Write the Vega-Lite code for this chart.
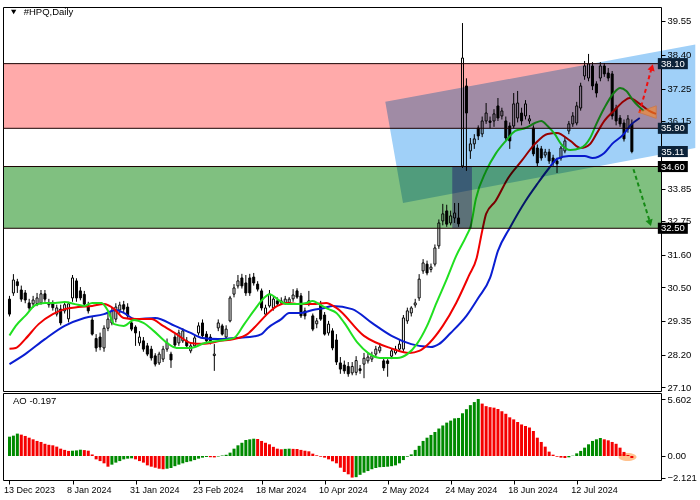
{
"$schema": "https://vega.github.io/schema/vega-lite/v6.json",
"background": "white",
"padding": {"left": 2, "top": 6, "right": 0, "bottom": 0},
"spacing": 2,
"bounds": "flush",
"config": {
  "view": {"stroke": "black", "strokeWidth": 1},
  "font": "Liberation Sans",
  "axis": {"labelFont": "Liberation Sans", "labelFontSize": 9.5, "labelColor": "black", "tickColor": "black", "domain": false, "grid": false}
},
"resolve": {"scale": {"x": "independent", "y": "independent", "color": "independent", "fill": "independent"}},
"datasets": {
"candles": [
{"i":0,"o":30.09,"h":30.2,"l":29.5,"c":29.58},{"i":1,"o":30.3,"h":30.94,"l":30.2,"c":30.74},{"i":2,"o":30.68,"h":30.78,"l":30.3,"c":30.55},{"i":3,"o":30.4,"h":30.55,"l":30.0,"c":30.09},{"i":4,"o":30.3,"h":30.4,"l":29.95,"c":30.06},{"i":5,"o":29.96,"h":30.1,"l":29.7,"c":29.79},{"i":6,"o":29.93,"h":30.2,"l":29.8,"c":30.06},{"i":7,"o":29.94,"h":30.3,"l":29.85,"c":30.13},{"i":8,"o":29.96,"h":30.4,"l":29.9,"c":30.27},{"i":9,"o":30.27,"h":30.4,"l":30.0,"c":30.09},
{"i":10,"o":29.9,"h":30.1,"l":29.8,"c":29.97},{"i":11,"o":29.95,"h":30.05,"l":29.7,"c":29.8},{"i":12,"o":29.58,"h":29.9,"l":29.5,"c":29.79},{"i":13,"o":29.75,"h":29.9,"l":29.2,"c":29.28},{"i":14,"o":29.69,"h":30.0,"l":29.6,"c":29.9},{"i":15,"o":29.42,"h":30.0,"l":29.3,"c":29.93},{"i":16,"o":30.13,"h":30.91,"l":30.0,"c":30.81},{"i":17,"o":30.71,"h":30.8,"l":30.0,"c":30.13},{"i":18,"o":30.37,"h":30.5,"l":30.05,"c":30.13},{"i":19,"o":30.25,"h":30.37,"l":29.85,"c":29.92},
{"i":20,"o":29.85,"h":30.0,"l":29.6,"c":29.69},{"i":21,"o":29.38,"h":29.5,"l":28.85,"c":28.9},{"i":22,"o":28.75,"h":28.9,"l":28.3,"c":28.43},{"i":23,"o":28.8,"h":28.95,"l":28.35,"c":28.46},{"i":24,"o":28.43,"h":29.2,"l":28.3,"c":29.1},{"i":25,"o":29.1,"h":29.6,"l":29.0,"c":29.41},{"i":26,"o":29.28,"h":29.8,"l":29.2,"c":29.69},{"i":27,"o":29.41,"h":29.95,"l":29.3,"c":29.82},{"i":28,"o":29.72,"h":30.0,"l":29.6,"c":29.89},{"i":29,"o":29.9,"h":30.03,"l":29.65,"c":29.75},
{"i":30,"o":29.82,"h":29.95,"l":29.45,"c":29.52},{"i":31,"o":29.28,"h":29.4,"l":29.0,"c":29.07},{"i":32,"o":29.14,"h":29.2,"l":28.5,"c":28.94},{"i":33,"o":28.6,"h":29.0,"l":28.5,"c":28.8},{"i":34,"o":28.67,"h":28.8,"l":28.3,"c":28.39},{"i":35,"o":28.5,"h":28.6,"l":28.15,"c":28.22},{"i":36,"o":28.39,"h":28.5,"l":28.0,"c":28.09},{"i":37,"o":28.16,"h":28.25,"l":27.8,"c":27.88},{"i":38,"o":27.92,"h":28.3,"l":27.85,"c":28.22},{"i":39,"o":28.05,"h":28.5,"l":27.95,"c":28.39},
{"i":40,"o":28.39,"h":28.75,"l":28.3,"c":28.6},{"i":41,"o":28.22,"h":28.3,"l":27.75,"c":28.02},{"i":42,"o":28.8,"h":28.9,"l":28.43,"c":28.53},{"i":43,"o":28.6,"h":29.05,"l":28.5,"c":28.94},{"i":44,"o":28.67,"h":29.1,"l":28.6,"c":29.01},{"i":45,"o":28.67,"h":28.8,"l":28.4,"c":28.5},{"i":46,"o":28.33,"h":28.6,"l":28.25,"c":28.5},{"i":47,"o":28.5,"h":28.9,"l":28.45,"c":28.77},{"i":48,"o":28.94,"h":29.3,"l":28.85,"c":29.18},{"i":49,"o":29.28,"h":29.4,"l":28.75,"c":28.84},
{"i":50,"o":28.9,"h":29.0,"l":28.6,"c":28.67},{"i":51,"o":28.8,"h":28.9,"l":28.55,"c":28.67},{"i":52,"o":28.17,"h":28.56,"l":27.65,"c":28.22},{"i":53,"o":29.11,"h":29.4,"l":29.0,"c":29.28},{"i":54,"o":29.18,"h":29.25,"l":28.85,"c":28.9},{"i":55,"o":28.8,"h":29.2,"l":28.7,"c":29.07},{"i":56,"o":29.35,"h":30.2,"l":29.3,"c":30.13},{"i":57,"o":30.26,"h":30.6,"l":30.15,"c":30.47},{"i":58,"o":30.54,"h":30.91,"l":30.45,"c":30.71},{"i":59,"o":30.81,"h":30.95,"l":30.45,"c":30.54},
{"i":60,"o":30.64,"h":30.91,"l":30.2,"c":30.3},{"i":61,"o":30.81,"h":30.95,"l":30.2,"c":30.3},{"i":62,"o":30.84,"h":30.98,"l":30.55,"c":30.64},{"i":63,"o":30.6,"h":30.7,"l":30.35,"c":30.43},{"i":64,"o":30.37,"h":30.45,"l":29.7,"c":29.79},{"i":65,"o":29.58,"h":29.9,"l":29.5,"c":29.79},{"i":66,"o":29.86,"h":30.4,"l":29.8,"c":30.26},{"i":67,"o":29.79,"h":30.2,"l":29.7,"c":30.09},{"i":68,"o":30.03,"h":30.15,"l":29.85,"c":29.93},{"i":69,"o":29.96,"h":30.15,"l":29.9,"c":30.03},
{"i":70,"o":29.96,"h":30.2,"l":29.9,"c":30.09},{"i":71,"o":29.97,"h":30.16,"l":29.9,"c":30.09},{"i":72,"o":30.1,"h":30.43,"l":30.0,"c":30.23},{"i":73,"o":30.37,"h":30.46,"l":30.1,"c":30.16},{"i":74,"o":30.2,"h":30.3,"l":29.45,"c":29.52},{"i":75,"o":29.69,"h":29.8,"l":29.4,"c":29.52},{"i":76,"o":30.03,"h":30.37,"l":29.85,"c":29.93},{"i":77,"o":29.52,"h":29.6,"l":29.0,"c":29.07},{"i":78,"o":29.25,"h":29.45,"l":29.1,"c":29.35},{"i":79,"o":29.89,"h":30.03,"l":29.35,"c":29.41},
{"i":80,"o":29.55,"h":29.65,"l":28.85,"c":28.9},{"i":81,"o":28.94,"h":29.35,"l":28.85,"c":29.24},{"i":82,"o":29.01,"h":29.1,"l":28.35,"c":28.43},{"i":83,"o":28.7,"h":28.9,"l":27.85,"c":27.95},{"i":84,"o":27.92,"h":28.12,"l":27.55,"c":27.71},{"i":85,"o":27.85,"h":28.0,"l":27.55,"c":27.65},{"i":86,"o":27.8,"h":27.95,"l":27.45,"c":27.55},{"i":87,"o":27.58,"h":27.95,"l":27.5,"c":27.8},{"i":88,"o":27.6,"h":28.15,"l":27.5,"c":28.0},{"i":89,"o":27.72,"h":27.85,"l":27.55,"c":27.66},
{"i":90,"o":27.88,"h":28.26,"l":27.4,"c":28.08},{"i":91,"o":27.99,"h":28.25,"l":27.9,"c":28.12},{"i":92,"o":28.05,"h":28.3,"l":27.95,"c":28.16},{"i":93,"o":28.22,"h":28.5,"l":28.1,"c":28.39},{"i":94,"o":28.33,"h":28.6,"l":28.25,"c":28.46},{"i":95,"o":27.99,"h":28.1,"l":27.65,"c":27.75},{"i":96,"o":27.99,"h":28.05,"l":27.45,"c":27.9},{"i":97,"o":28.15,"h":28.4,"l":28.05,"c":28.33},{"i":98,"o":28.26,"h":28.5,"l":28.2,"c":28.39},{"i":99,"o":28.39,"h":28.7,"l":28.3,"c":28.56},
{"i":100,"o":28.39,"h":29.55,"l":28.3,"c":29.45},{"i":101,"o":29.35,"h":29.8,"l":29.25,"c":29.69},{"i":102,"o":29.62,"h":29.85,"l":29.5,"c":29.79},{"i":103,"o":29.89,"h":30.1,"l":29.8,"c":29.96},{"i":104,"o":30.13,"h":30.94,"l":30.03,"c":30.77},{"i":105,"o":31.05,"h":31.45,"l":30.95,"c":31.32},{"i":106,"o":31.28,"h":31.4,"l":30.9,"c":30.98},{"i":107,"o":31.1,"h":31.3,"l":31.0,"c":31.18},{"i":108,"o":31.28,"h":31.95,"l":31.2,"c":31.83},{"i":109,"o":31.9,"h":32.8,"l":31.8,"c":32.68},
{"i":110,"o":32.75,"h":33.33,"l":32.6,"c":32.99},{"i":111,"o":33.09,"h":33.3,"l":32.55,"c":32.64},{"i":112,"o":32.68,"h":33.1,"l":32.6,"c":32.92},{"i":113,"o":32.85,"h":33.36,"l":32.68,"c":33.02},{"i":114,"o":32.85,"h":33.36,"l":32.55,"c":32.65},{"i":115,"o":34.62,"h":39.48,"l":34.55,"c":38.29},{"i":116,"o":37.34,"h":37.6,"l":34.45,"c":36.42},{"i":117,"o":35.13,"h":35.57,"l":34.86,"c":35.37},{"i":118,"o":35.37,"h":35.7,"l":35.2,"c":35.54},{"i":119,"o":35.91,"h":36.0,"l":35.5,"c":35.64},
{"i":120,"o":35.71,"h":36.3,"l":35.6,"c":36.15},{"i":121,"o":36.15,"h":36.76,"l":36.05,"c":36.42},{"i":122,"o":36.15,"h":36.3,"l":35.9,"c":36.1},{"i":123,"o":36.15,"h":36.55,"l":35.95,"c":36.39},{"i":124,"o":36.66,"h":36.93,"l":36.15,"c":36.25},{"i":125,"o":36.32,"h":36.6,"l":36.2,"c":36.49},{"i":126,"o":36.15,"h":36.3,"l":35.5,"c":35.57},{"i":127,"o":35.98,"h":36.1,"l":35.2,"c":35.47},{"i":128,"o":35.98,"h":37.1,"l":35.9,"c":36.73},{"i":129,"o":36.25,"h":37.17,"l":36.1,"c":36.76},
{"i":130,"o":36.42,"h":36.6,"l":36.0,"c":36.15},{"i":131,"o":36.32,"h":36.86,"l":36.2,"c":36.73},{"i":132,"o":36.15,"h":36.35,"l":36.05,"c":36.22},{"i":133,"o":35.91,"h":36.0,"l":34.95,"c":35.03},{"i":134,"o":35.23,"h":35.35,"l":34.6,"c":34.72},{"i":135,"o":35.2,"h":35.3,"l":34.8,"c":34.89},{"i":136,"o":34.99,"h":35.2,"l":34.9,"c":35.09},{"i":137,"o":35.09,"h":35.2,"l":34.69,"c":34.79},{"i":138,"o":34.89,"h":35.0,"l":34.62,"c":34.72},{"i":139,"o":34.79,"h":34.9,"l":34.38,"c":34.69},
{"i":140,"o":34.89,"h":35.3,"l":34.8,"c":35.23},{"i":141,"o":35.13,"h":35.6,"l":35.05,"c":35.47},{"i":142,"o":35.81,"h":36.15,"l":35.7,"c":36.05},{"i":143,"o":36.05,"h":36.45,"l":35.95,"c":36.32},{"i":144,"o":36.08,"h":36.8,"l":36.0,"c":36.66},{"i":145,"o":36.59,"h":37.45,"l":36.5,"c":37.34},{"i":146,"o":37.68,"h":38.19,"l":37.55,"c":38.02},{"i":147,"o":37.61,"h":38.43,"l":37.5,"c":38.09},{"i":148,"o":38.02,"h":38.15,"l":37.2,"c":37.34},{"i":149,"o":37.41,"h":37.5,"l":36.95,"c":37.1},
{"i":150,"o":37.61,"h":38.15,"l":37.5,"c":38.02},{"i":151,"o":38.02,"h":38.12,"l":37.65,"c":37.75},{"i":152,"o":37.78,"h":37.95,"l":37.5,"c":37.61},{"i":153,"o":37.75,"h":37.85,"l":36.2,"c":36.32},{"i":154,"o":36.59,"h":36.7,"l":36.0,"c":36.15},{"i":155,"o":36.25,"h":36.35,"l":35.95,"c":36.05},{"i":156,"o":36.08,"h":36.2,"l":35.45,"c":35.54},{"i":157,"o":35.88,"h":36.35,"l":35.75,"c":36.22},{"i":158,"o":36.05,"h":36.2,"l":35.05,"c":35.11}
],
"ma": [
{"s":"jaw","i":0,"v":27.88},{"s":"jaw","i":4,"v":28.22},{"s":"jaw","i":9,"v":28.73},{"s":"jaw","i":14,"v":29.18},{"s":"jaw","i":19,"v":29.45},{"s":"jaw","i":24,"v":29.58},{"s":"jaw","i":27,"v":29.72},{"s":"jaw","i":29,"v":29.62},{"s":"jaw","i":32,"v":29.41},{"s":"jaw","i":37,"v":29.45},{"s":"jaw","i":42,"v":29.18},{"s":"jaw","i":46,"v":28.94},{"s":"jaw","i":49,"v":28.77},{"s":"jaw","i":53,"v":28.73},{"s":"jaw","i":57,"v":28.77},{"s":"jaw","i":61,"v":28.8},{"s":"jaw","i":64,"v":28.9},{"s":"jaw","i":65.5,"v":29.1},{"s":"jaw","i":69,"v":29.41},{"s":"jaw","i":71,"v":29.62},{"s":"jaw","i":74,"v":29.62},{"s":"jaw","i":77,"v":29.72},{"s":"jaw","i":80,"v":29.79},{"s":"jaw","i":82,"v":29.86},{"s":"jaw","i":87,"v":29.75},{"s":"jaw","i":92,"v":29.28},{"s":"jaw","i":97,"v":28.84},{"s":"jaw","i":102,"v":28.56},{"s":"jaw","i":107,"v":28.46},{"s":"jaw","i":109,"v":28.56},{"s":"jaw","i":112,"v":28.94},{"s":"jaw","i":116,"v":29.52},{"s":"jaw","i":119,"v":30.13},{"s":"jaw","i":122,"v":30.81},{"s":"jaw","i":124,"v":31.73},{"s":"jaw","i":127,"v":32.51},{"s":"jaw","i":131,"v":33.43},{"s":"jaw","i":134,"v":34.01},{"s":"jaw","i":137,"v":34.55},{"s":"jaw","i":139,"v":34.86},{"s":"jaw","i":142,"v":34.96},{"s":"jaw","i":146,"v":34.96},{"s":"jaw","i":148,"v":34.89},{"s":"jaw","i":151,"v":35.06},{"s":"jaw","i":153,"v":35.37},{"s":"jaw","i":156,"v":35.71},{"s":"jaw","i":157.5,"v":35.98},{"s":"jaw","i":160,"v":36.25},
{"s":"teeth","i":0,"v":28.4},{"s":"teeth","i":1.6,"v":28.43},{"s":"teeth","i":4,"v":28.73},{"s":"teeth","i":7.4,"v":29.24},{"s":"teeth","i":11,"v":29.58},{"s":"teeth","i":14,"v":29.75},{"s":"teeth","i":17.4,"v":29.82},{"s":"teeth","i":21,"v":29.86},{"s":"teeth","i":24,"v":29.92},{"s":"teeth","i":26.6,"v":29.75},{"s":"teeth","i":29,"v":29.45},{"s":"teeth","i":32.4,"v":29.41},{"s":"teeth","i":36,"v":29.41},{"s":"teeth","i":39,"v":29.18},{"s":"teeth","i":42.4,"v":28.9},{"s":"teeth","i":46,"v":28.6},{"s":"teeth","i":49,"v":28.57},{"s":"teeth","i":53.6,"v":28.67},{"s":"teeth","i":57,"v":28.73},{"s":"teeth","i":60.4,"v":28.9},{"s":"teeth","i":63,"v":29.24},{"s":"teeth","i":65.4,"v":29.58},{"s":"teeth","i":68,"v":29.86},{"s":"teeth","i":70.4,"v":29.96},{"s":"teeth","i":73.6,"v":29.92},{"s":"teeth","i":77,"v":29.92},{"s":"teeth","i":80.4,"v":29.96},{"s":"teeth","i":83,"v":29.79},{"s":"teeth","i":90,"v":28.84},{"s":"teeth","i":96.6,"v":28.43},{"s":"teeth","i":101.6,"v":28.26},{"s":"teeth","i":104,"v":28.33},{"s":"teeth","i":106.6,"v":28.6},{"s":"teeth","i":110,"v":29.18},{"s":"teeth","i":113.4,"v":29.96},{"s":"teeth","i":116.6,"v":30.88},{"s":"teeth","i":118.6,"v":31.49},{"s":"teeth","i":120,"v":32.41},{"s":"teeth","i":121,"v":32.99},{"s":"teeth","i":123.4,"v":33.43},{"s":"teeth","i":126.6,"v":34.21},{"s":"teeth","i":130,"v":34.79},{"s":"teeth","i":133.4,"v":35.37},{"s":"teeth","i":136.6,"v":35.71},{"s":"teeth","i":139,"v":35.74},{"s":"teeth","i":142.4,"v":35.47},{"s":"teeth","i":145,"v":35.23},{"s":"teeth","i":147.4,"v":35.37},{"s":"teeth","i":149,"v":35.71},{"s":"teeth","i":151,"v":36.15},{"s":"teeth","i":153.4,"v":36.49},{"s":"teeth","i":156,"v":36.83},{"s":"teeth","i":157.4,"v":36.93},{"s":"teeth","i":160,"v":36.73},{"s":"teeth","i":162.4,"v":36.49},{"s":"teeth","i":164.1,"v":36.39},
{"s":"lips","i":0,"v":28.85},{"s":"lips","i":1.6,"v":29.18},{"s":"lips","i":4,"v":29.52},{"s":"lips","i":6.6,"v":29.89},{"s":"lips","i":9,"v":29.96},{"s":"lips","i":11.6,"v":29.96},{"s":"lips","i":14,"v":29.99},{"s":"lips","i":16.6,"v":29.92},{"s":"lips","i":19,"v":29.86},{"s":"lips","i":21,"v":29.96},{"s":"lips","i":23.4,"v":29.96},{"s":"lips","i":25,"v":29.69},{"s":"lips","i":26.6,"v":29.24},{"s":"lips","i":29,"v":29.18},{"s":"lips","i":31.6,"v":29.38},{"s":"lips","i":34,"v":29.28},{"s":"lips","i":36.6,"v":29.01},{"s":"lips","i":40,"v":28.6},{"s":"lips","i":42.4,"v":28.43},{"s":"lips","i":46,"v":28.43},{"s":"lips","i":49.6,"v":28.6},{"s":"lips","i":53,"v":28.67},{"s":"lips","i":57,"v":28.77},{"s":"lips","i":59.6,"v":29.24},{"s":"lips","i":62,"v":29.69},{"s":"lips","i":64.6,"v":30.13},{"s":"lips","i":66,"v":30.26},{"s":"lips","i":68.6,"v":30.03},{"s":"lips","i":70.4,"v":29.92},{"s":"lips","i":73,"v":29.92},{"s":"lips","i":75.4,"v":29.96},{"s":"lips","i":77,"v":30.03},{"s":"lips","i":78.6,"v":29.92},{"s":"lips","i":81,"v":29.75},{"s":"lips","i":83,"v":29.62},{"s":"lips","i":85,"v":29.28},{"s":"lips","i":88.4,"v":28.6},{"s":"lips","i":91,"v":28.26},{"s":"lips","i":94,"v":28.09},{"s":"lips","i":98.4,"v":28.09},{"s":"lips","i":101,"v":28.22},{"s":"lips","i":103.4,"v":28.56},{"s":"lips","i":106,"v":29.18},{"s":"lips","i":108.4,"v":29.96},{"s":"lips","i":111,"v":30.77},{"s":"lips","i":113.4,"v":31.56},{"s":"lips","i":116,"v":32.24},{"s":"lips","i":117.1,"v":32.58},{"s":"lips","i":118.4,"v":33.5},{"s":"lips","i":121,"v":34.45},{"s":"lips","i":123.4,"v":35.03},{"s":"lips","i":126,"v":35.47},{"s":"lips","i":128.4,"v":35.81},{"s":"lips","i":131,"v":35.91},{"s":"lips","i":133.4,"v":36.08},{"s":"lips","i":135,"v":36.15},{"s":"lips","i":136.6,"v":35.98},{"s":"lips","i":138.4,"v":35.71},{"s":"lips","i":140,"v":35.37},{"s":"lips","i":142.4,"v":35.16},{"s":"lips","i":145,"v":35.23},{"s":"lips","i":147.4,"v":35.57},{"s":"lips","i":149,"v":36.05},{"s":"lips","i":151,"v":36.59},{"s":"lips","i":153.4,"v":37.1},{"s":"lips","i":155,"v":37.27},{"s":"lips","i":156.6,"v":37.17},{"s":"lips","i":158.4,"v":36.83},{"s":"lips","i":161,"v":36.49}
],
"ao": [
{"i":0,"v":1.9,"c":"g"},{"i":1,"v":2.0,"c":"g"},{"i":2,"v":2.2,"c":"g"},{"i":3,"v":2.1,"c":"r"},{"i":4,"v":1.97,"c":"r"},{"i":5,"v":1.8,"c":"r"},{"i":6,"v":1.64,"c":"r"},{"i":7,"v":1.48,"c":"r"},{"i":8,"v":1.38,"c":"r"},{"i":9,"v":1.2,"c":"r"},{"i":10,"v":1.1,"c":"r"},{"i":11,"v":1.05,"c":"r"},{"i":12,"v":0.92,"c":"r"},{"i":13,"v":0.72,"c":"r"},{"i":14,"v":0.6,"c":"r"},{"i":15,"v":0.5,"c":"r"},{"i":16,"v":0.52,"c":"g"},{"i":17,"v":0.55,"c":"g"},{"i":18,"v":0.62,"c":"g"},{"i":19,"v":0.58,"c":"r"},
{"i":20,"v":0.52,"c":"r"},{"i":21,"v":0.15,"c":"r"},{"i":22,"v":-0.33,"c":"r"},{"i":23,"v":-0.5,"c":"r"},{"i":24,"v":-0.72,"c":"r"},{"i":25,"v":-1.05,"c":"r"},{"i":26,"v":-0.85,"c":"g"},{"i":27,"v":-0.65,"c":"g"},{"i":28,"v":-0.5,"c":"g"},{"i":29,"v":-0.33,"c":"g"},{"i":30,"v":-0.26,"c":"g"},{"i":31,"v":-0.23,"c":"g"},{"i":32,"v":-0.33,"c":"r"},{"i":33,"v":-0.5,"c":"r"},{"i":34,"v":-0.65,"c":"r"},{"i":35,"v":-0.92,"c":"r"},{"i":36,"v":-1.05,"c":"r"},{"i":37,"v":-1.15,"c":"r"},{"i":38,"v":-1.25,"c":"r"},{"i":39,"v":-1.3,"c":"r"},
{"i":40,"v":-1.25,"c":"g"},{"i":41,"v":-1.18,"c":"g"},{"i":42,"v":-1.0,"c":"g"},{"i":43,"v":-0.85,"c":"g"},{"i":44,"v":-0.72,"c":"g"},{"i":45,"v":-0.6,"c":"g"},{"i":46,"v":-0.52,"c":"g"},{"i":47,"v":-0.4,"c":"g"},{"i":48,"v":-0.26,"c":"g"},{"i":49,"v":-0.16,"c":"g"},{"i":50,"v":-0.1,"c":"g"},{"i":51,"v":-0.12,"c":"r"},{"i":52,"v":-0.14,"c":"r"},{"i":53,"v":-0.05,"c":"g"},{"i":54,"v":0.05,"c":"g"},{"i":55,"v":0.12,"c":"g"},{"i":56,"v":0.33,"c":"g"},{"i":57,"v":0.72,"c":"g"},{"i":58,"v":1.05,"c":"g"},{"i":59,"v":1.3,"c":"g"},
{"i":60,"v":1.57,"c":"g"},{"i":61,"v":1.64,"c":"g"},{"i":62,"v":1.7,"c":"g"},{"i":63,"v":1.66,"c":"r"},{"i":64,"v":1.48,"c":"r"},{"i":65,"v":1.3,"c":"r"},{"i":66,"v":1.15,"c":"r"},{"i":67,"v":0.9,"c":"r"},{"i":68,"v":0.72,"c":"r"},{"i":69,"v":0.66,"c":"r"},{"i":70,"v":0.7,"c":"g"},{"i":71,"v":0.72,"c":"g"},{"i":72,"v":0.7,"c":"r"},{"i":73,"v":0.69,"c":"r"},{"i":74,"v":0.6,"c":"r"},{"i":75,"v":0.52,"c":"r"},{"i":76,"v":0.46,"c":"r"},{"i":77,"v":0.23,"c":"r"},{"i":78,"v":0.07,"c":"r"},{"i":79,"v":-0.07,"c":"r"},
{"i":80,"v":-0.16,"c":"r"},{"i":81,"v":-0.33,"c":"r"},{"i":82,"v":-0.52,"c":"r"},{"i":83,"v":-0.72,"c":"r"},{"i":84,"v":-1.15,"c":"r"},{"i":85,"v":-1.57,"c":"r"},{"i":86,"v":-1.8,"c":"r"},{"i":87,"v":-2.121,"c":"r"},{"i":88,"v":-2.08,"c":"g"},{"i":89,"v":-1.85,"c":"g"},{"i":90,"v":-1.64,"c":"g"},{"i":91,"v":-1.48,"c":"g"},{"i":92,"v":-1.3,"c":"g"},{"i":93,"v":-1.18,"c":"g"},{"i":94,"v":-1.1,"c":"g"},{"i":95,"v":-1.08,"c":"g"},{"i":96,"v":-1.05,"c":"g"},{"i":97,"v":-1.0,"c":"g"},{"i":98,"v":-0.92,"c":"g"},{"i":99,"v":-0.72,"c":"g"},
{"i":100,"v":-0.4,"c":"g"},{"i":101,"v":-0.07,"c":"g"},{"i":102,"v":0.16,"c":"g"},{"i":103,"v":0.6,"c":"g"},{"i":104,"v":1.0,"c":"g"},{"i":105,"v":1.48,"c":"g"},{"i":106,"v":1.8,"c":"g"},{"i":107,"v":2.07,"c":"g"},{"i":108,"v":2.36,"c":"g"},{"i":109,"v":2.7,"c":"g"},{"i":110,"v":3.0,"c":"g"},{"i":111,"v":3.28,"c":"g"},{"i":112,"v":3.48,"c":"g"},{"i":113,"v":3.7,"c":"g"},{"i":114,"v":3.74,"c":"g"},{"i":115,"v":4.2,"c":"g"},{"i":116,"v":4.6,"c":"g"},{"i":117,"v":5.0,"c":"g"},{"i":118,"v":5.3,"c":"g"},{"i":119,"v":5.602,"c":"g"},
{"i":120,"v":5.15,"c":"r"},{"i":121,"v":4.9,"c":"r"},{"i":122,"v":4.8,"c":"r"},{"i":123,"v":4.75,"c":"r"},{"i":124,"v":4.62,"c":"r"},{"i":125,"v":4.4,"c":"r"},{"i":126,"v":4.15,"c":"r"},{"i":127,"v":3.8,"c":"r"},{"i":128,"v":3.6,"c":"r"},{"i":129,"v":3.34,"c":"r"},{"i":130,"v":3.1,"c":"r"},{"i":131,"v":2.95,"c":"r"},{"i":132,"v":2.8,"c":"r"},{"i":133,"v":2.46,"c":"r"},{"i":134,"v":1.8,"c":"r"},{"i":135,"v":1.38,"c":"r"},{"i":136,"v":0.92,"c":"r"},{"i":137,"v":0.43,"c":"r"},{"i":138,"v":0.13,"c":"r"},{"i":139,"v":-0.07,"c":"r"},
{"i":140,"v":-0.16,"c":"r"},{"i":141,"v":-0.2,"c":"r"},{"i":142,"v":-0.13,"c":"g"},{"i":143,"v":0.03,"c":"g"},{"i":144,"v":0.26,"c":"g"},{"i":145,"v":0.5,"c":"g"},{"i":146,"v":0.82,"c":"g"},{"i":147,"v":1.15,"c":"g"},{"i":148,"v":1.48,"c":"g"},{"i":149,"v":1.64,"c":"g"},{"i":150,"v":1.77,"c":"g"},{"i":151,"v":1.64,"c":"r"},{"i":152,"v":1.54,"c":"r"},{"i":153,"v":1.38,"c":"r"},{"i":154,"v":1.2,"c":"r"},{"i":155,"v":0.82,"c":"r"},{"i":156,"v":0.4,"c":"r"},{"i":157,"v":0.1,"c":"r"},{"i":158,"v":-0.197,"c":"r"}
],
"zones": [{"lo":35.9,"hi":38.1,"z":"sell"},{"lo":32.5,"hi":34.6,"z":"buy"}],
"levels": [{"p":38.1},{"p":35.9},{"p":34.6},{"p":32.5}],
"tags": [{"p":38.1,"k":"level"},{"p":35.9,"k":"level"},{"p":35.11,"k":"bid"},{"p":34.6,"k":"level"},{"p":32.5,"k":"level"}],
"channel": [{"i":95.4,"top":36.8,"bot":36.8},{"i":99.9,"top":36.91,"bot":33.36},{"i":174.1,"top":38.75,"bot":35.23}],
"gap": [{"i1":112.4,"i2":117.4,"lo":32.5,"hi":34.6}],
"arrows": [{"dir":"up","i1":159.9,"p1":36.42,"i2":163.0,"p2":37.95},{"dir":"down","i1":158.4,"p1":34.51,"i2":162.5,"p2":32.75}],
"heads": [{"dir":"up","i":163.1,"p":37.97},{"dir":"down","i":162.6,"p":32.68}],
"target": [{"i":161.9,"p":36.45}],
"aoMark": [{"i":156.9,"v":-0.1}],
"title": [{"i":3.6,"p":39.856,"t":"#HPQ,Daily"}],
"aoTitle": [{"i":0.9,"v":5.4,"t":"AO -0.197"}]
},
"vconcat": [
{
"width": 658, "height": 384,
"layer": [
{"data": {"name": "candles"}, "mark": {"type": "rule", "color": "black", "strokeWidth": 1},
 "encoding": {
  "x": {"field": "i", "type": "quantitative", "scale": {"domain": [-0.375, 164.125], "nice": false, "zero": false}, "axis": null},
  "y": {"field": "l", "type": "quantitative", "scale": {"domain": [26.965, 40.026], "nice": false, "zero": false},
        "axis": {"orient": "right", "title": null, "values": [39.55, 38.4, 37.25, 36.15, 33.85, 32.75, 31.6, 30.5, 29.35, 28.2, 27.1], "format": ".2f", "tickSize": 4, "labelPadding": 2, "labelAlign": "left", "labelBaseline": "middle"}},
  "y2": {"field": "h"}}},
{"data": {"name": "candles"}, "mark": {"type": "bar", "width": 2, "stroke": "black", "strokeWidth": 1},
 "encoding": {
  "x": {"field": "i", "type": "quantitative", "axis": null},
  "y": {"field": "o", "type": "quantitative", "axis": {"orient": "right", "title": null, "values": [39.55, 38.4, 37.25, 36.15, 33.85, 32.75, 31.6, 30.5, 29.35, 28.2, 27.1], "format": ".2f", "tickSize": 4, "labelPadding": 2, "labelAlign": "left", "labelBaseline": "middle"}},
  "y2": {"field": "c"},
  "fill": {"condition": {"test": "datum.c >= datum.o", "value": "white"}, "value": "black"}}},
{"data": {"name": "ma"}, "mark": {"type": "line", "strokeWidth": 2, "interpolate": "monotone"},
 "encoding": {
  "x": {"field": "i", "type": "quantitative", "axis": null},
  "y": {"field": "v", "type": "quantitative", "axis": {"orient": "right", "title": null, "values": [39.55, 38.4, 37.25, 36.15, 33.85, 32.75, 31.6, 30.5, 29.35, 28.2, 27.1], "format": ".2f", "tickSize": 4, "labelPadding": 2, "labelAlign": "left", "labelBaseline": "middle"}},
  "color": {"field": "s", "type": "nominal", "scale": {"domain": ["jaw", "teeth", "lips"], "range": ["#0A1ED2", "#F00000", "#20E020"]}, "legend": null}}},
{"data": {"name": "zones"}, "mark": {"type": "rect", "blend": "multiply"},
 "encoding": {
  "y": {"field": "lo", "type": "quantitative", "axis": {"orient": "right", "title": null, "values": [39.55, 38.4, 37.25, 36.15, 33.85, 32.75, 31.6, 30.5, 29.35, 28.2, 27.1], "format": ".2f", "tickSize": 4, "labelPadding": 2, "labelAlign": "left", "labelBaseline": "middle"}},
  "y2": {"field": "hi"},
  "fill": {"field": "z", "type": "nominal", "scale": {"domain": ["sell", "buy"], "range": ["#FFAAAA", "#80C080"]}, "legend": null}}},
{"data": {"name": "gap"}, "mark": {"type": "rect", "blend": "multiply", "fill": "#B896F0"},
 "encoding": {
  "x": {"field": "i1", "type": "quantitative", "axis": null},
  "x2": {"field": "i2"},
  "y": {"field": "lo", "type": "quantitative", "axis": {"orient": "right", "title": null, "values": [39.55, 38.4, 37.25, 36.15, 33.85, 32.75, 31.6, 30.5, 29.35, 28.2, 27.1], "format": ".2f", "tickSize": 4, "labelPadding": 2, "labelAlign": "left", "labelBaseline": "middle"}},
  "y2": {"field": "hi"}}},
{"data": {"name": "channel"}, "mark": {"type": "area", "blend": "multiply", "fill": "#A0D0F8", "opacity": 1},
 "encoding": {
  "x": {"field": "i", "type": "quantitative", "axis": null},
  "y": {"field": "top", "type": "quantitative", "axis": {"orient": "right", "title": null, "values": [39.55, 38.4, 37.25, 36.15, 33.85, 32.75, 31.6, 30.5, 29.35, 28.2, 27.1], "format": ".2f", "tickSize": 4, "labelPadding": 2, "labelAlign": "left", "labelBaseline": "middle"}},
  "y2": {"field": "bot"}}},
{"data": {"name": "levels"}, "mark": {"type": "rule", "color": "#1a0000", "strokeWidth": 1},
 "encoding": {"y": {"field": "p", "type": "quantitative", "axis": {"orient": "right", "title": null, "values": [39.55, 38.4, 37.25, 36.15, 33.85, 32.75, 31.6, 30.5, 29.35, 28.2, 27.1], "format": ".2f", "tickSize": 4, "labelPadding": 2, "labelAlign": "left", "labelBaseline": "middle"}}}},
{"data": {"name": "arrows"}, "mark": {"type": "rule", "strokeWidth": 2, "strokeDash": [4, 3]},
 "encoding": {
  "x": {"field": "i1", "type": "quantitative", "axis": null},
  "x2": {"field": "i2"},
  "y": {"field": "p1", "type": "quantitative", "axis": {"orient": "right", "title": null, "values": [39.55, 38.4, 37.25, 36.15, 33.85, 32.75, 31.6, 30.5, 29.35, 28.2, 27.1], "format": ".2f", "tickSize": 4, "labelPadding": 2, "labelAlign": "left", "labelBaseline": "middle"}},
  "y2": {"field": "p2"},
  "color": {"condition": {"test": "datum.dir == 'up'", "value": "#F01010"}, "value": "#158A15"}}},
{"data": {"name": "heads"}, "mark": {"type": "point", "filled": true, "size": 55, "opacity": 1},
 "encoding": {
  "x": {"field": "i", "type": "quantitative", "axis": null},
  "y": {"field": "p", "type": "quantitative", "axis": {"orient": "right", "title": null, "values": [39.55, 38.4, 37.25, 36.15, 33.85, 32.75, 31.6, 30.5, 29.35, 28.2, 27.1], "format": ".2f", "tickSize": 4, "labelPadding": 2, "labelAlign": "left", "labelBaseline": "middle"}},
  "shape": {"condition": {"test": "datum.dir == 'up'", "value": "triangle-up"}, "value": "triangle-down"},
  "angle": {"condition": {"test": "datum.dir == 'up'", "value": 16}, "value": 343},
  "color": {"condition": {"test": "datum.dir == 'up'", "value": "#F01010"}, "value": "#158A15"}}},
{"data": {"name": "target"}, "mark": {"type": "point", "filled": true, "shape": "M-1,0L1,-0.7L1,0.7Z", "size": 324, "fill": "#FF8C28", "opacity": 0.6, "stroke": "#E07020", "strokeWidth": 1},
 "encoding": {
  "x": {"field": "i", "type": "quantitative", "axis": null},
  "y": {"field": "p", "type": "quantitative", "axis": {"orient": "right", "title": null, "values": [39.55, 38.4, 37.25, 36.15, 33.85, 32.75, 31.6, 30.5, 29.35, 28.2, 27.1], "format": ".2f", "tickSize": 4, "labelPadding": 2, "labelAlign": "left", "labelBaseline": "middle"}}}},
{"data": {"name": "tags"}, "mark": {"type": "point", "filled": true, "shape": "M-1,-0.37H1V0.37H-1Z", "size": 900, "opacity": 1},
 "encoding": {
  "x": {"datum": 168.4, "type": "quantitative", "axis": null},
  "y": {"field": "p", "type": "quantitative", "axis": {"orient": "right", "title": null, "values": [39.55, 38.4, 37.25, 36.15, 33.85, 32.75, 31.6, 30.5, 29.35, 28.2, 27.1], "format": ".2f", "tickSize": 4, "labelPadding": 2, "labelAlign": "left", "labelBaseline": "middle"}},
  "color": {"condition": {"test": "datum.p > 35", "value": "#0C2238"}, "value": "black"}}},
{"data": {"name": "tags"}, "mark": {"type": "text", "color": "white", "fontSize": 9.5, "font": "Liberation Sans", "align": "center", "baseline": "middle"},
 "encoding": {
  "x": {"datum": 168.4, "type": "quantitative", "axis": null},
  "y": {"field": "p", "type": "quantitative", "axis": {"orient": "right", "title": null, "values": [39.55, 38.4, 37.25, 36.15, 33.85, 32.75, 31.6, 30.5, 29.35, 28.2, 27.1], "format": ".2f", "tickSize": 4, "labelPadding": 2, "labelAlign": "left", "labelBaseline": "middle"}},
  "text": {"field": "p", "type": "quantitative", "format": ".2f"}}},
{"data": {"name": "title"}, "mark": {"type": "text", "color": "black", "fontSize": 9.5, "font": "Liberation Sans", "align": "left", "baseline": "middle"},
 "encoding": {
  "x": {"field": "i", "type": "quantitative", "axis": null},
  "y": {"field": "p", "type": "quantitative", "axis": {"orient": "right", "title": null, "values": [39.55, 38.4, 37.25, 36.15, 33.85, 32.75, 31.6, 30.5, 29.35, 28.2, 27.1], "format": ".2f", "tickSize": 4, "labelPadding": 2, "labelAlign": "left", "labelBaseline": "middle"}},
  "text": {"field": "t"}}},
{"data": {"name": "title"}, "mark": {"type": "point", "filled": true, "shape": "triangle-down", "size": 28, "color": "black", "opacity": 1, "xOffset": -10},
 "encoding": {
  "x": {"field": "i", "type": "quantitative", "axis": null},
  "y": {"field": "p", "type": "quantitative", "axis": {"orient": "right", "title": null, "values": [39.55, 38.4, 37.25, 36.15, 33.85, 32.75, 31.6, 30.5, 29.35, 28.2, 27.1], "format": ".2f", "tickSize": 4, "labelPadding": 2, "labelAlign": "left", "labelBaseline": "middle"}}}}
]
},
{
"width": 658, "height": 87,
"layer": [
{"data": {"name": "aoMark"}, "mark": {"type": "point", "filled": true, "shape": "M-1,0A1,0.45,0,1,1,1,0A1,0.45,0,1,1,-1,0Z", "size": 324, "color": "#FFA860", "opacity": 0.7},
 "encoding": {
  "x": {"field": "i", "type": "quantitative", "scale": {"domain": [-0.375, 164.125], "nice": false, "zero": false},
        "axis": {"title": null, "values": [0, 16, 32, 48, 64, 80, 96, 112, 128, 144], "labelExpr": "['13 Dec 2023','8 Jan 2024','31 Jan 2024','23 Feb 2024','18 Mar 2024','10 Apr 2024','2 May 2024','24 May 2024','18 Jun 2024','12 Jul 2024'][round(datum.value/16)]", "labelAlign": "left", "labelOffset": -6, "labelFontSize": 9, "tickSize": 4, "labelPadding": 1, "labelFlush": false, "labelOverlap": false, "labelBound": false}},
  "y": {"field": "v", "type": "quantitative", "scale": {"domain": [-2.359, 6.192], "nice": false, "zero": false},
        "axis": {"orient": "right", "title": null, "values": [5.602, 0, -2.121], "labelExpr": "datum.value == 0 ? '0.00' : format(datum.value, '.3f')", "tickSize": 4, "labelPadding": 2, "labelAlign": "left", "labelBaseline": "middle"}}}},
{"data": {"name": "ao"}, "mark": {"type": "bar", "width": 3},
 "encoding": {
  "x": {"field": "i", "type": "quantitative", "axis": {"title": null, "values": [0, 16, 32, 48, 64, 80, 96, 112, 128, 144], "labelExpr": "['13 Dec 2023','8 Jan 2024','31 Jan 2024','23 Feb 2024','18 Mar 2024','10 Apr 2024','2 May 2024','24 May 2024','18 Jun 2024','12 Jul 2024'][round(datum.value/16)]", "labelAlign": "left", "labelOffset": -6, "labelFontSize": 9, "tickSize": 4, "labelPadding": 1, "labelFlush": false, "labelOverlap": false, "labelBound": false}},
  "y": {"field": "v", "type": "quantitative", "axis": {"orient": "right", "title": null, "values": [5.602, 0, -2.121], "labelExpr": "datum.value == 0 ? '0.00' : format(datum.value, '.3f')", "tickSize": 4, "labelPadding": 2, "labelAlign": "left", "labelBaseline": "middle"}},
  "y2": {"datum": 0},
  "color": {"field": "c", "type": "nominal", "scale": {"domain": ["g", "r"], "range": ["#008A00", "#F50000"]}, "legend": null}}},
{"data": {"name": "aoTitle"}, "mark": {"type": "text", "color": "black", "fontSize": 9.5, "font": "Liberation Sans", "align": "left", "baseline": "middle"},
 "encoding": {
  "x": {"field": "i", "type": "quantitative", "axis": {"title": null, "values": [0, 16, 32, 48, 64, 80, 96, 112, 128, 144], "labelExpr": "['13 Dec 2023','8 Jan 2024','31 Jan 2024','23 Feb 2024','18 Mar 2024','10 Apr 2024','2 May 2024','24 May 2024','18 Jun 2024','12 Jul 2024'][round(datum.value/16)]", "labelAlign": "left", "labelOffset": -6, "labelFontSize": 9, "tickSize": 4, "labelPadding": 1, "labelFlush": false, "labelOverlap": false, "labelBound": false}},
  "y": {"field": "v", "type": "quantitative", "axis": {"orient": "right", "title": null, "values": [5.602, 0, -2.121], "labelExpr": "datum.value == 0 ? '0.00' : format(datum.value, '.3f')", "tickSize": 4, "labelPadding": 2, "labelAlign": "left", "labelBaseline": "middle"}},
  "text": {"field": "t"}}}
]
}
]
}
